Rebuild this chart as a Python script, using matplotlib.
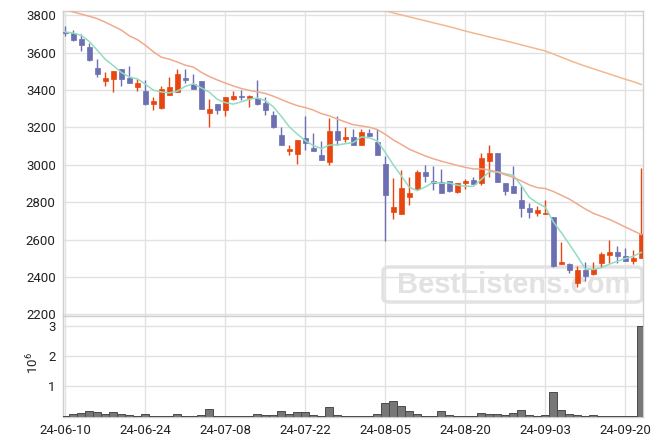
import matplotlib
matplotlib.use('Agg')
import matplotlib.pyplot as plt
import numpy as np
import pandas as pd
from matplotlib.patches import FancyBboxPatch
from matplotlib.ticker import FuncFormatter

plt.rcParams['font.family'] = ['Roboto', 'DejaVu Sans']
plt.rcParams['mathtext.default'] = 'regular'

# ---------------- data ----------------
opens = [3710, 3707, 3672, 3629, 3517, 3449, 3458, 3511, 3462, 3414,
         3394, 3323, 3305, 3374, 3392, 3463, 3435, 3447, 3278, 3326,
         3294, 3351, 3367, 3358, 3360, 3333, 3264, 3159, 3072, 3057,
         3141, 3091, 3050, 3014, 3180, 3139, 3148, 3107, 3170, 3121,
         3002, 2749, 2735, 2826, 2868, 2959, 2916, 2907, 2911, 2853,
         2902, 2918, 2902, 3021, 3061, 2900, 2889, 2812, 2769, 2740,
         2735, 2721, 2467, 2468, 2370, 2438, 2418, 2477, 2520, 2535,
         2513, 2485, 2499]
highs = [3743, 3723, 3700, 3652, 3568, 3497, 3501, 3515, 3527, 3458,
         3456, 3365, 3421, 3472, 3515, 3515, 3485, 3447, 3351, 3327,
         3365, 3396, 3399, 3376, 3456, 3365, 3287, 3205, 3105, 3131,
         3259, 3168, 3129, 3248, 3259, 3200, 3194, 3189, 3191, 3189,
         3047, 2930, 2973, 2936, 2971, 3000, 2995, 2977, 2911, 2905,
         2925, 2934, 3064, 3104, 3064, 2900, 2996, 2889, 2796, 2778,
         2810, 2721, 2587, 2474, 2461, 2481, 2481, 2531, 2595, 2567,
         2554, 2545, 2982]
lows = [3688, 3663, 3611, 3556, 3471, 3424, 3387, 3421, 3436, 3396,
        3321, 3294, 3301, 3374, 3392, 3440, 3407, 3300, 3203, 3273,
        3259, 3346, 3346, 3307, 3321, 3264, 3198, 3107, 3052, 3005,
        3080, 3073, 3027, 3000, 3105, 3123, 3107, 3107, 3155, 3050,
        2590, 2710, 2735, 2783, 2868, 2907, 2866, 2850, 2855, 2850,
        2871, 2896, 2894, 2936, 2907, 2839, 2850, 2721, 2714, 2724,
        2735, 2452, 2467, 2420, 2345, 2377, 2413, 2454, 2477, 2477,
        2483, 2468, 2499]
closes = [3706, 3668, 3641, 3560, 3487, 3465, 3501, 3458, 3438, 3437,
          3324, 3341, 3408, 3414, 3485, 3453, 3407, 3300, 3298, 3294,
          3365, 3367, 3362, 3367, 3326, 3294, 3203, 3107, 3086, 3131,
          3118, 3073, 3027, 3180, 3134, 3150, 3107, 3175, 3155, 3052,
          2841, 2776, 2878, 2851, 2964, 2939, 2902, 2850, 2859, 2905,
          2912, 2896, 3039, 3061, 2907, 2859, 2850, 2767, 2746, 2758,
          2744, 2459, 2479, 2436, 2436, 2406, 2442, 2524, 2535, 2510,
          2483, 2499, 2631]
volumes_m = [0.01, 0.10, 0.13, 0.20, 0.16, 0.10, 0.16, 0.10, 0.065, 0.03,
             0.10, 0.03, 0.03, 0.03, 0.10, 0.03, 0.03, 0.065, 0.26, 0.03,
             0.03, 0.03, 0.03, 0.03, 0.10, 0.065, 0.065, 0.20, 0.10, 0.16,
             0.16, 0.065, 0.03, 0.33, 0.065, 0.03, 0.03, 0.03, 0.03, 0.10,
             0.46, 0.53, 0.36, 0.20, 0.10, 0.03, 0.03, 0.20, 0.065, 0.03,
             0.03, 0.03, 0.13, 0.10, 0.10, 0.065, 0.13, 0.23, 0.065, 0.03,
             0.065, 0.82, 0.23, 0.10, 0.065, 0.03, 0.065, 0.03, 0.03, 0.03,
             0.03, 0.03, 3.00]  # millions of shares

# moving-average values before enough history is visible
ma5_head = [3711, 3705, 3692, 3660]
ma20_head = [3831, 3818, 3806, 3795, 3782, 3763, 3742, 3721, 3690, 3670,
             3640, 3605, 3576, 3565, 3550, 3533, 3523, 3495, 3472]
# long moving average, starting at index 39
ma_long_start = 39
ma_long = [3836, 3824, 3813, 3802, 3792, 3781, 3771, 3760, 3750, 3739,
           3728, 3716, 3705, 3695, 3684, 3674, 3664, 3653, 3642, 3631,
           3620, 3609, 3593, 3576, 3559, 3543, 3528, 3514, 3500, 3486,
           3472, 3458, 3445, 3430]

tick_labels = ['24-06-10', '24-06-24', '24-07-08', '24-07-22',
               '24-08-05', '24-08-20', '24-09-03', '24-09-20']
tick_step = 10

# ---------------- styling ----------------
UP = '#e8460f'
DOWN = '#6c6fb2'
MA5_C = '#93dcc2'
MA20_C = '#f0ab8c'
MALONG_C = '#f2b890'
GRID = '#e2e2e2'
SPINE = '#cfcfcf'
TXT = '#222222'

n = len(closes)
idx = np.arange(n)
o = np.array(opens, float)
h = np.array(highs, float)
l = np.array(lows, float)
c = np.array(closes, float)
up = c >= o
cols = np.where(up, UP, DOWN)

ma5 = pd.Series(c).rolling(5).mean().to_numpy()
ma5[:len(ma5_head)] = ma5_head
ma20 = pd.Series(c).rolling(20).mean().to_numpy()
ma20[:len(ma20_head)] = ma20_head
ma_long_x = np.arange(ma_long_start, ma_long_start + len(ma_long))

fig = plt.figure(figsize=(6.63, 4.46), dpi=100)
ax = fig.add_axes([0.0946, 0.2915, 0.8757, 0.6838])
axv = fig.add_axes([0.0946, 0.0657, 0.8757, 0.2258], sharex=ax)

for a in (ax, axv):
    a.set_axisbelow(True)
    a.grid(True, color=GRID, lw=1.0)
    for s in a.spines.values():
        s.set_color(SPINE)
        s.set_linewidth(1.0)
    a.tick_params(length=0, labelsize=9.5, colors=TXT, pad=5)

# candles
ax.vlines(idx, l, h, colors=cols, lw=1.0, zorder=3)
body_bottom = np.minimum(o, c)
body_h = np.maximum(np.abs(c - o), 4)
ax.bar(idx, body_h, bottom=body_bottom, width=0.68, color=cols,
       edgecolor=cols, lw=0.5, zorder=4)

# moving averages
ax.plot(idx, ma5, color=MA5_C, lw=1.1, zorder=5)
ax.plot(idx, ma20, color=MA20_C, lw=1.1, zorder=5)
ax.plot(ma_long_x, ma_long, color=MALONG_C, lw=1.1, zorder=5)

ax.set_ylim(2191, 3823)
ax.set_yticks(np.arange(2200, 3801, 200))
ax.set_xlim(-0.33, 72.25)
ax.tick_params(labelbottom=False)

# watermark
box = FancyBboxPatch((0.5517, 0.0459), 0.9978 - 0.5517, 0.1607 - 0.0459,
                     boxstyle='round,pad=0,rounding_size=0.012',
                     transform=ax.transAxes, fc='none', ec='#e2e2e2',
                     lw=2.5, zorder=1.5)
ax.add_patch(box)
ax.text(0.7764, 0.1016, 'BestListens.com', transform=ax.transAxes,
        ha='center', va='center', fontsize=21, fontweight='bold',
        family=['Liberation Sans', 'DejaVu Sans'], color='#e2e2e2',
        zorder=1.6)

# volume
vol = np.array(volumes_m) * 1e6
axv.bar(idx, vol, width=1.0, color='#777777', edgecolor='#4a4a4a',
        lw=0.7, zorder=3)
axv.set_ylim(0, 3.33e6)
axv.set_yticks([1e6, 2e6, 3e6])
axv.yaxis.set_major_formatter(FuncFormatter(lambda v, p: f'{v/1e6:.0f}'))
axv.set_xticks(np.arange(0, tick_step * len(tick_labels), tick_step))
axv.set_xticklabels(tick_labels)
fig.text(33 / 663, 1 - 363 / 446, '$10^6$', rotation=90, ha='center',
         va='center', fontsize=9.5, color=TXT)

fig.savefig('out.png', dpi=100)
